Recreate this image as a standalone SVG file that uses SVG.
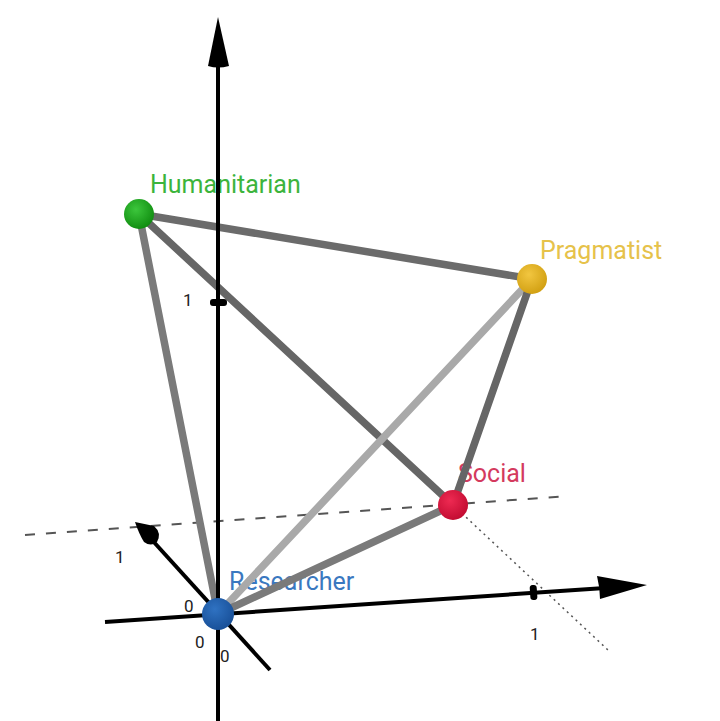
<svg xmlns="http://www.w3.org/2000/svg" width="720" height="721" viewBox="0 0 720 721">
<style>
.lbl{font-family:Roboto,"Liberation Sans",sans-serif;font-size:25px}
.num{font-family:Roboto,"Liberation Sans",sans-serif;font-size:17px;fill:#222}
.axis{stroke:#000;stroke-width:4;fill:none}
.edge{stroke-width:7.5;stroke-linecap:round;fill:none}
</style>
<defs>
<radialGradient id="gG" cx="0.4" cy="0.35" r="0.7"><stop offset="0" stop-color="#3cc63c"/><stop offset="1" stop-color="#0e8a0e"/></radialGradient>
<radialGradient id="gY" cx="0.4" cy="0.35" r="0.7"><stop offset="0" stop-color="#f2c640"/><stop offset="1" stop-color="#d09e10"/></radialGradient>
<radialGradient id="gR" cx="0.4" cy="0.35" r="0.7"><stop offset="0" stop-color="#ee2a52"/><stop offset="1" stop-color="#c00a30"/></radialGradient>
<radialGradient id="gB" cx="0.4" cy="0.35" r="0.7"><stop offset="0" stop-color="#2f72c2"/><stop offset="1" stop-color="#174e96"/></radialGradient>
</defs>
<rect width="720" height="721" fill="#fff"/>
<g id="labels">
<text class="lbl" x="150" y="193" fill="#3cb43c">Humanitarian</text>
<text class="lbl" x="540" y="259" fill="#e6c24a">Pragmatist</text>
<text class="lbl" x="458" y="482" fill="#d43a5e">Social</text>
<text class="lbl" x="229" y="590" fill="#3a78c0">Researcher</text>
</g>
<g id="guides">
<line x1="25" y1="535" x2="568" y2="496" stroke="#555" stroke-width="2" stroke-dasharray="10 11"/>
<line x1="453" y1="505" x2="608" y2="650" stroke="#555" stroke-width="1.5" stroke-dasharray="2 4"/>
</g>
<g id="connectors">
<line class="edge" x1="139" y1="214" x2="532" y2="279" stroke="#6b6b6b"/>
<line class="edge" x1="139" y1="214" x2="218" y2="614" stroke="#7a7a7a"/>
<line class="edge" x1="139" y1="214" x2="453" y2="505" stroke="#666"/>
<line class="edge" x1="532" y1="279" x2="218" y2="614" stroke="#a9a9a9"/>
<line class="edge" x1="532" y1="279" x2="453" y2="505" stroke="#666"/>
<line class="edge" x1="453" y1="505" x2="218" y2="614" stroke="#7a7a7a"/>
</g>
<g id="axes">
<line class="axis" x1="218" y1="721" x2="218" y2="60"/>
<path d="M218 17 L208 66 Q218 69 229 66 Z" fill="#000"/>
<rect x="210" y="299" width="17" height="7" rx="3" fill="#000"/>
<line class="axis" x1="105" y1="622" x2="605" y2="588"/>
<path d="M647 585 L597 576 Q600 588 600 599 Z" fill="#000"/>
<rect x="530" y="585" width="7" height="15" rx="3" fill="#000" transform="rotate(-4 533 592)"/>
<line class="axis" x1="270" y1="670" x2="152" y2="540"/>
<path d="M135 522 L154 526 Q162 533 157 542 Q151 547 144 542 Q139 534 135 522 Z" fill="#000"/>
</g>
<g id="numbers">
<text class="num" x="183" y="306">1</text>
<text class="num" x="115" y="563">1</text>
<text class="num" x="184" y="612">0</text>
<text class="num" x="195" y="648">0</text>
<text class="num" x="220" y="662">0</text>
<text class="num" x="530" y="640">1</text>
</g>
<g id="node-humanitarian"><circle cx="139" cy="214" r="15" fill="url(#gG)"/></g>
<g id="node-pragmatist"><circle cx="532" cy="279" r="15" fill="url(#gY)"/></g>
<g id="node-social"><circle cx="453" cy="505" r="15" fill="url(#gR)"/></g>
<g id="node-researcher"><circle cx="218" cy="614" r="16" fill="url(#gB)"/></g>
</svg>
